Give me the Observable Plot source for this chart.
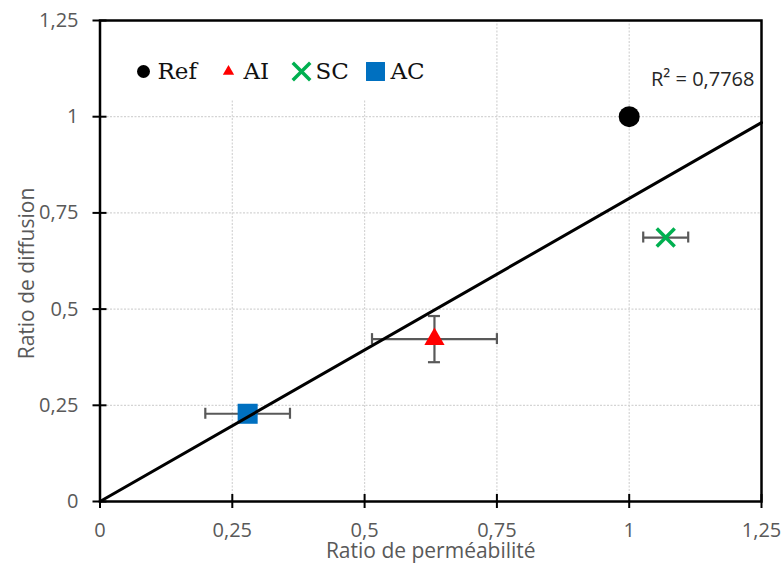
<!DOCTYPE html>
<html><head><meta charset="utf-8">
<script src="https://cdn.jsdelivr.net/npm/d3@7"></script>
<script src="https://cdn.jsdelivr.net/npm/@observablehq/plot@0.6"></script>
<style>
body{margin:0;background:#fff} #chart{width:783px;height:564px}
</style>
</head><body><div id="chart"></div>
<script>
// ---- data ----
const series = ["Ref", "AI", "SC", "AC"];
const ratioPermeabilite = [1.0, 0.632, 1.069, 0.279];
const ratioDiffusion = [1.0, 0.422, 0.686, 0.228];
const errPermeabilite = [0, 0.118, 0.0425, 0.080];
const errDiffusion = [0, 0.060, 0, 0];
const tickValues = [0, 0.25, 0.5, 0.75, 1, 1.25];
const xTitle = "Ratio de perméabilité";
const yTitle = "Ratio de diffusion";
const r2Label = "R² = 0,7768";

// ---- derived ----
const data = series.map((s, i) => ({series: s, x: ratioPermeabilite[i], y: ratioDiffusion[i], ex: errPermeabilite[i], ey: errDiffusion[i]}));
const slope = d3.sum(data, d => d.x * d.y) / d3.sum(data, d => d.x * d.x); // linear trend through origin
const domain = [0, 1.25];
const trend = domain.map(x => ({x, y: slope * x}));
const xErr = data.filter(d => d.ex > 0);
const yErr = data.filter(d => d.ey > 0);
const xCaps = xErr.flatMap(d => [{x: d.x - d.ex, y: d.y}, {x: d.x + d.ex, y: d.y}]);
const yCaps = yErr.flatMap(d => [{x: d.x, y: d.y - d.ey}, {x: d.x, y: d.y + d.ey}]);
const fmt = d => String(d).replace(".", ",");
const gridTicks = tickValues.slice(1, -1);

const sty = {
  Ref: {symbol: "circle", fill: "#000000", r: 10.5, lr: 6.5, ldx: 43.5, tdx: 57.5},
  AI: {symbol: "triangle", fill: "#FF0000", r: 7.5, lr: 4.2, ldx: 128.5, tdx: 143.5},
  SC: {symbol: "times", stroke: "#00B050", r: 8.2, lr: 8, ldx: 201.5, tdx: 215.5},
  AC: {symbol: "square", fill: "#0070C0", r: 11.3, lr: 10.7, ldx: 275.5, tdx: 290.5}
};
function dotOpts(s, extra) {
  const st = sty[s];
  return st.stroke
    ? {symbol: st.symbol, fill: "none", stroke: st.stroke, strokeWidth: 3.5, ...extra}
    : {symbol: st.symbol, fill: st.fill, stroke: "none", ...extra};
}

const gray = "#595959";
const chart = Plot.plot({
  width: 783, height: 564,
  marginLeft: 99.5, marginRight: 22, marginTop: 20, marginBottom: 63,
  style: {fontFamily: "'Open Sans', sans-serif", background: "#fff"},
  x: {domain, axis: null},
  y: {domain, axis: null},
  marks: [
    Plot.gridX(gridTicks, {stroke: "#d4d4d4", strokeOpacity: 1, strokeWidth: 1.2, strokeDasharray: "2,1.5"}),
    Plot.gridY(gridTicks, {stroke: "#d4d4d4", strokeOpacity: 1, strokeWidth: 1.2, strokeDasharray: "2,1.5"}),
    // legend background box
    Plot.rect([0], {x1: domain[0], x2: domain[1], y1: domain[0], y2: domain[1], insetRight: 316, insetBottom: 401, fill: "white"}),
    Plot.frame({stroke: "#000", strokeWidth: 2.5}),
    // cross ticks
    Plot.ruleX(tickValues, {x: d => d, y1: 0, y2: 0, insetTop: -7, insetBottom: -7, stroke: "#000", strokeWidth: 2}),
    Plot.ruleY(tickValues, {y: d => d, x1: 0, x2: 0, insetLeft: -7, insetRight: -7, stroke: "#000", strokeWidth: 2}),
    // tick labels
    Plot.text(tickValues, {x: d => d, text: fmt, frameAnchor: "bottom", lineAnchor: "middle", textAnchor: "middle", dy: 29.5, fontSize: 20, fill: gray}),
    Plot.text(tickValues, {y: d => d, text: fmt, frameAnchor: "left", lineAnchor: "middle", textAnchor: "end", dx: -21.5, fontSize: 20, fill: gray}),
    // error bars
    Plot.ruleY(xErr, {y: "y", x1: d => d.x - d.ex, x2: d => d.x + d.ex, stroke: gray, strokeWidth: 2.2}),
    Plot.ruleX(xCaps, {x: "x", y1: "y", y2: "y", insetTop: -5.5, insetBottom: -5.5, stroke: gray, strokeWidth: 2.2}),
    Plot.ruleX(yErr, {x: "x", y1: d => d.y - d.ey, y2: d => d.y + d.ey, stroke: gray, strokeWidth: 2.2}),
    Plot.ruleY(yCaps, {y: "y", x1: "x", x2: "x", insetLeft: -6, insetRight: -6, stroke: gray, strokeWidth: 2.2}),
    // markers
    ...series.map(s => Plot.dot(data.filter(d => d.series === s), dotOpts(s, {x: "x", y: "y", r: sty[s].r}))),
    // trendline
    Plot.line(trend, {x: "x", y: "y", stroke: "#000", strokeWidth: 3}),
    // legend
    ...series.map(s => Plot.dot([s], dotOpts(s, {frameAnchor: "top-left", dx: sty[s].ldx, dy: 51, r: sty[s].lr}))),
    ...series.map(s => Plot.text([s], {text: d => d, frameAnchor: "top-left", lineAnchor: "middle", dx: sty[s].tdx, dy: 51, textAnchor: "start", fontFamily: "'DejaVu Serif', serif", fontSize: 23, fill: "#111"})),
    // R² label
    Plot.text([r2Label], {text: d => d, frameAnchor: "top-right", lineAnchor: "middle", dx: -7, dy: 59.5, textAnchor: "end", fontSize: 20, fill: "#262626"}),
    // axis titles
    Plot.text([xTitle], {text: d => d, frameAnchor: "bottom", lineAnchor: "middle", textAnchor: "middle", dy: 50, fontSize: 21, fill: gray}),
    Plot.text([yTitle], {text: d => d, frameAnchor: "left", lineAnchor: "middle", textAnchor: "middle", dx: -73, dy: 12.5, rotate: -90, fontSize: 21, fill: gray})
  ]
});
document.getElementById("chart").append(chart);
</script>
</body></html>
